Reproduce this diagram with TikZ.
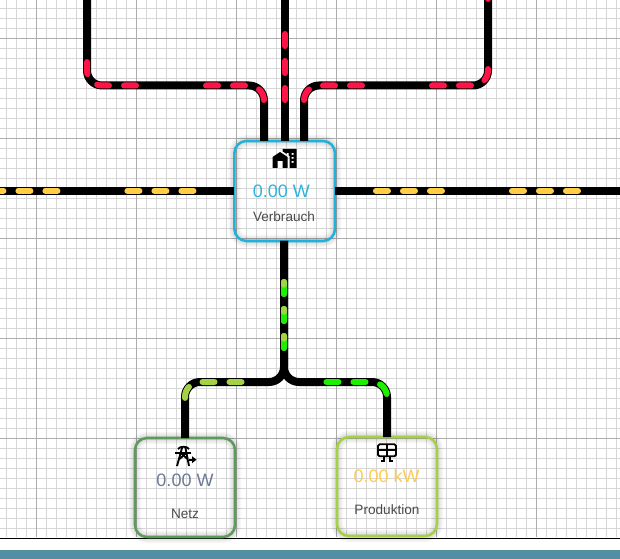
\documentclass[tikz,border=0pt]{standalone}
\usepackage{fontspec}
\setmainfont{Liberation Sans}
\definecolor{minorgrid}{HTML}{D6D6D6}
\definecolor{majorgrid}{HTML}{ADADAD}
\definecolor{flowred}{HTML}{FF1447}
\definecolor{flowyellow}{HTML}{FFCE45}
\definecolor{flowolive}{HTML}{A5D145}
\definecolor{flowgreen}{HTML}{1CF000}
\definecolor{cardblue}{HTML}{1FB2DC}
\definecolor{cardgreen}{HTML}{5F9A5A}
\definecolor{cardlime}{HTML}{A6D146}
\definecolor{valueblue}{HTML}{2AB4E2}
\definecolor{valueslate}{HTML}{6A7A98}
\definecolor{valueyellow}{HTML}{FFCB4D}
\definecolor{captiongrey}{HTML}{4A4A4A}
\definecolor{footerteal}{HTML}{528FA3}
\tikzset{
  x=0.75pt, y=-0.75pt,
  wire/.style={draw=black, line width=6pt, rounded corners=11.25pt, line cap=butt},
  pulse/.style={line width=4.5pt, line cap=round, rounded corners=11.25pt,
    dash pattern={on 9pt off 11.25pt on 9pt off 11.25pt on 9pt off 52.5pt}, dash phase=71.25pt},
  card/.style={draw=#1, line width=1.9pt, rounded corners=9pt, inner sep=0pt, outer sep=0pt, shape=rectangle},
  haze/.style={draw=black, rounded corners=9pt, opacity=0.035},
  valuetext/.style={font=\fontsize{13.5pt}{15pt}\selectfont, inner sep=0pt, text=#1},
  captiontext/.style={font=\fontsize{10.2pt}{12pt}\selectfont, inner sep=0pt, text=captiongrey},
  iconline/.style={draw=black, line width=1.4pt},
}
\begin{document}
\begin{tikzpicture}
\useasboundingbox (0,0) rectangle (620,559);
\fill[white] (0,0) rectangle (620,559);

% background grid: fine lines every 10 units, heavier every 100
\foreach \k in {0,...,61} \draw[minorgrid, line width=0.75pt] ({6.5+10*\k},0) -- ({6.5+10*\k},537);
\foreach \k in {0,...,52} \draw[minorgrid, line width=0.75pt] (0,{8.5+10*\k}) -- (620,{8.5+10*\k});
\foreach \k in {0,...,5} \draw[majorgrid, line width=0.75pt] ({36.5+100*\k},0) -- ({36.5+100*\k},537);
\foreach \k in {0,...,4} \draw[majorgrid, line width=0.75pt] (0,{38.5+100*\k}) -- (620,{38.5+100*\k});

% footer
\fill[black] (0,537.6) rectangle (620,539.4);
\fill[footerteal] (0,550) rectangle (620,559);

% soft glow round the cards
\foreach \w in {9,7,5,3} {
  \path[haze, line width=\w pt] (234.5,141) rectangle (335,241);
  \path[haze, line width=\w pt] (135,438) rectangle (235,537);
  \path[haze, line width=\w pt] (337,437) rectangle (437,536);
}

% cards
\node[card=cardblue, minimum width=75.4pt, minimum height=75pt] (verbrauch) at (284.7,191) {};
\node[card=cardgreen, minimum width=75pt, minimum height=74.25pt] (netz) at (185,487.5) {};
\node[card=cardlime, minimum width=75pt, minimum height=74.25pt] (produktion) at (387,486.5) {};

% connector bends and free ends
\coordinate (topleftknee) at (264,85.5);
\coordinate (topleftbend) at (87,85.5);
\coordinate (topleftend) at (87,-4);
\coordinate (topmidend) at (285,-4);
\coordinate (toprightknee) at (304,85.5);
\coordinate (toprightbend) at (488,85.5);
\coordinate (toprightend) at (488,-4);
\coordinate (westend) at (-4,190.7);
\coordinate (eastend) at (624,190.7);
\coordinate (fork) at (284,382);
\coordinate (netzbend) at (185,382);
\coordinate (prodbend) at (387,382);
\coordinate (forktop) at (284,367);

\newcommand{\consumerroutes}[1]{%
  \draw[#1] (verbrauch.north -| topleftknee) -- (topleftknee) -- (topleftbend) -- (topleftend);
  \draw[#1] (verbrauch.north -| topmidend) -- (topmidend);
  \draw[#1] (verbrauch.north -| toprightknee) -- (toprightknee) -- (toprightbend) -- (toprightend);
}
\newcommand{\gridroutes}[1]{%
  \draw[#1] (verbrauch.west |- westend) -- (westend);
  \draw[#1] (verbrauch.east |- eastend) -- (eastend);
}

% black wires
\consumerroutes{wire}
\gridroutes{wire}
\draw[wire] (verbrauch.south -| fork) -- (fork) -- (netzbend) -- (netz.north);
\draw[wire] (verbrauch.south -| fork) -- (fork) -- (prodbend) -- (produktion.north -| prodbend);

% moving flow dashes
\consumerroutes{pulse, draw=flowred}
\gridroutes{pulse, draw=flowyellow}
\draw[pulse, draw=flowolive] (verbrauch.south -| fork) -- (fork) -- (netzbend) -- (netz.north);
\draw[pulse, draw=flowgreen] (verbrauch.south -| fork) -- (fork) -- (prodbend) -- (produktion.north -| prodbend);
\draw[pulse, draw=flowolive, dash pattern={on 2pt off 18.25pt on 2pt off 18.25pt on 2pt off 59.5pt}]
  (verbrauch.south -| fork) -- (forktop);

% house and office block
\fill[black, even odd rule, shift={(272.5,147)}]
  (0,21) -- (0,10) -- (7.5,5) -- (15,10) -- (15,21) -- (10,21) -- (10,14) -- (5,14) -- (5,21) -- cycle
  (24,2) -- (24,21) -- (17,21) -- (17,8.93) -- (16,8.27) -- (16,6) -- (14,6) -- (14,6.93) -- (10,4.27) -- (10,2) -- cycle
  (21,14) -- (19,14) -- (19,16) -- (21,16) -- cycle
  (21,10) -- (19,10) -- (19,12) -- (21,12) -- cycle
  (21,6) -- (19,6) -- (19,8) -- (21,8) -- cycle;

% transmission tower with export arrow
\draw[iconline] (178,449) .. controls (180,446) and (187,446) .. (189,449);
\draw[iconline] (175,452.8) -- (190.5,452.8);
\draw[iconline] (182,448) -- (177,466);
\draw[iconline] (185.5,448) -- (189,466);
\draw[iconline] (179.5,459) -- (186.5,452.8);
\draw[iconline] (180.5,452.8) -- (187.5,459);
\draw[iconline] (189,459.7) -- (193.5,459.7);
\fill[black] (192,456.2) -- (196.5,459.7) -- (192,463.2) -- cycle;

% solar panel on its stand
\draw[iconline, rounded corners=1.2pt] (378,444.3) rectangle (396,456.3);
\draw[iconline] (378,450.3) -- (396,450.3);
\draw[iconline] (387,444.3) -- (387,456.3);
\draw[iconline] (384,456.3) -- (384,461) -- (381,461);
\draw[iconline] (390,456.3) -- (390,461) -- (393,461);

% readings and captions
\node[valuetext=valueblue] (verbrauchvalue) at (281.3,191.5) {0.00 W};
\node[captiontext] (verbrauchcaption) at (284,217) {Verbrauch};
\node[valuetext=valueslate] (netzvalue) at (185,480.5) {0.00 W};
\node[captiontext] (netzcaption) at (185,514) {Netz};
\node[valuetext=valueyellow] (produktionvalue) at (386.7,476.5) {0.00 kW};
\node[captiontext] (produktioncaption) at (387,510) {Produktion};
\end{tikzpicture}
\end{document}
